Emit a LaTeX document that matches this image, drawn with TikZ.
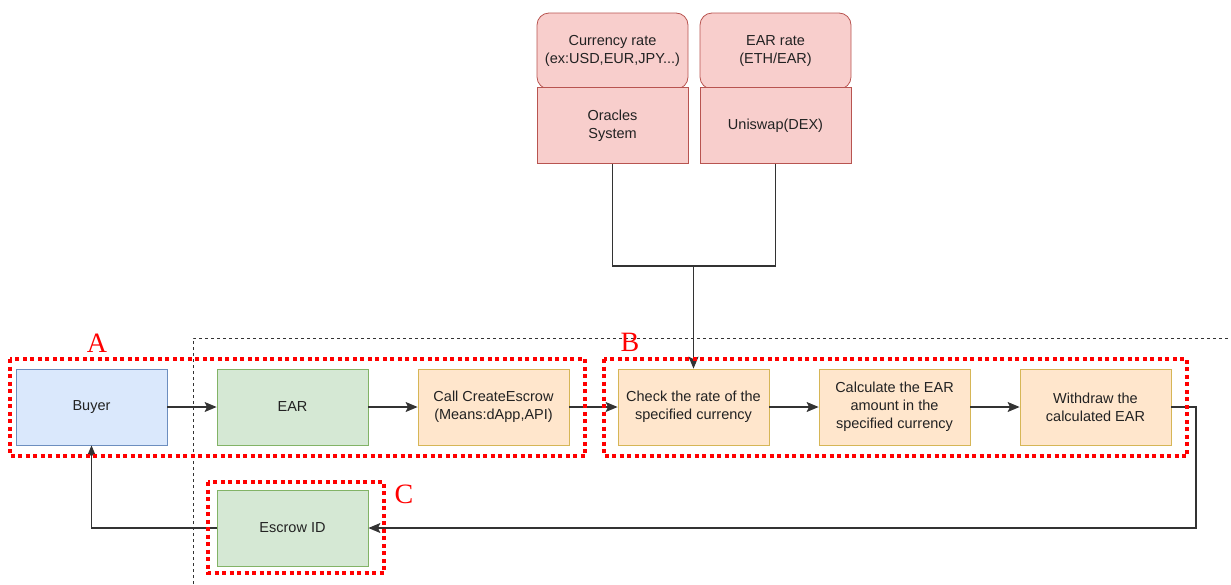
\documentclass[tikz,border=0pt]{standalone}
\usepackage{fontspec}
\setmainfont{Liberation Sans}
\newfontfamily\labelfont{Liberation Serif}
\usetikzlibrary{arrows.meta}

\definecolor{txt}{HTML}{222222}
\definecolor{lnk}{HTML}{333333}
\definecolor{bluefill}{HTML}{DAE8FC}\definecolor{bluedraw}{HTML}{6C8EBF}
\definecolor{greenfill}{HTML}{D5E8D4}\definecolor{greendraw}{HTML}{82B366}
\definecolor{orangefill}{HTML}{FFE6CC}\definecolor{orangedraw}{HTML}{D6B656}
\definecolor{redfill}{HTML}{F8CECC}\definecolor{reddraw}{HTML}{B85450}
\definecolor{frame}{HTML}{FF0000}

\tikzset{
  x=1pt, y=-1pt,
  card/.style={draw, line width=0.8pt, minimum width=151pt, minimum height=76pt,
    inner sep=2pt, align=center, text=txt, font=\fontsize{14.5}{18}\selectfont},
  bluebox/.style={card, fill=bluefill, draw=bluedraw},
  greenbox/.style={card, fill=greenfill, draw=greendraw},
  orangebox/.style={card, fill=orangefill, draw=orangedraw},
  redbox/.style={card, fill=redfill, draw=reddraw},
  redround/.style={redbox, rounded corners=12pt},
  link/.style={draw=lnk, line width=1.1pt},
  arr/.style={link, -{Stealth[length=12pt,width=10pt,inset=2.5pt]}},
  redframe/.style={draw=frame, line width=4pt, dash pattern=on 4pt off 3.5pt},
  zone/.style={draw=lnk, line width=0.8pt, dash pattern=on 3pt off 3pt},
  tag/.style={text=frame, font=\labelfont\fontsize{28}{28}\selectfont, inner sep=0pt}
}

\begin{document}
\begin{tikzpicture}
\useasboundingbox (0,0) rectangle (1231,584);

% data sources
\node[redround] (cur) at (612.5,51) {Currency rate\\(ex:USD,EUR,JPY...)};
\node[redbox] (oracle) at (612.5,125.5) {Oracles\\System};
\node[redround] (earrate) at (775.5,51) {EAR rate\\(ETH/EAR)};
\node[redbox] (uni) at (775.5,125.5) {Uniswap(DEX)};

% dashed zone
\draw[zone] (193,584) |- (1231,338);

% main flow
\node[bluebox] (buyer) at (91.5,407) {Buyer};
\node[greenbox] (ear) at (292.5,407) {EAR};
\node[orangebox] (call) at (493.5,407) {Call CreateEscrow\\(Means:dApp,API)};
\node[orangebox] (check) at (693.5,407) {Check the rate of the\\specified currency};
\node[orangebox] (calc) at (894.5,407) {Calculate the EAR\\amount in the\\specified currency};
\node[orangebox] (withdraw) at (1095.5,407) {Withdraw the\\calculated EAR};
\node[greenbox] (escrow) at (292.5,528) {Escrow ID};

% connectors
\coordinate (join) at (693.5,266);
\coordinate (turn) at (1196,407);
\draw[link] (oracle.south) |- (join) -| (uni.south);
\draw[arr] (join) -- (check.north);
\draw[arr] (buyer) -- (ear);
\draw[arr] (ear) -- (call);
\draw[arr] (call) -- (check);
\draw[arr] (check) -- (calc);
\draw[arr] (calc) -- (withdraw);
\draw[arr] (withdraw.east) -- (turn) |- (escrow.east);
\draw[arr] (escrow.west) -| (buyer.south);

% highlighted groups
\draw[redframe] (10,359) rectangle (585,456);
\draw[redframe] (604,359) rectangle (1187,456);
\draw[redframe] (208,482) rectangle (384,573);
\node[tag] (tagA) at (97,343) {A};
\node[tag] (tagB) at (630,342) {B};
\node[tag] (tagC) at (404,494) {C};
\end{tikzpicture}
\end{document}
